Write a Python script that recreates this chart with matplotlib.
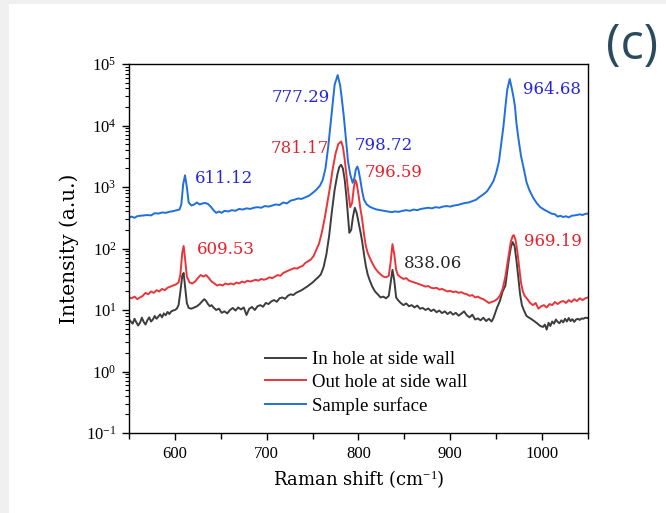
import matplotlib
matplotlib.use("Agg")
import matplotlib.pyplot as plt
from matplotlib.patches import Rectangle
from matplotlib.ticker import MultipleLocator, LogLocator, NullFormatter

plt.rcParams.update({
    "font.family":        ["Liberation Serif", "DejaVu Serif"],
    "mathtext.fontset":   "custom",
    "mathtext.rm":        "Liberation Serif",
    "mathtext.it":        "Liberation Serif:italic",
    "axes.linewidth":     1.0,
    "axes.unicode_minus": False,
})

# ── Data ──────────────────────────────────────────────────────────

# Sample surface (blue)
surf_x = [550, 553, 556, 559, 562, 566, 570, 574, 578, 582, 586, 590, 594, 598,
          602, 605, 607, 609, 611, 613, 615, 618, 621, 624, 627, 630, 633, 636,
          639, 642, 645, 648, 651, 654, 658, 662, 666, 670, 674, 678, 682, 686,
          690, 694, 698, 702, 706, 710, 714, 718, 722, 726, 730, 734, 738, 742,
          746, 750, 754, 758, 761, 764, 767, 770.6, 774, 777.3, 780, 781.6, 784,
          785.7, 788.6, 791, 793.6, 795.5, 797, 798.7, 800, 802, 804, 806, 809,
          812, 816, 820, 824, 828, 832, 836, 840, 844, 848, 852, 856, 860, 864,
          868, 872, 876, 880, 884, 888, 892, 896, 900, 904, 908, 912, 916, 920,
          924, 928, 932, 935, 940, 944, 947, 950, 953, 956, 958, 960, 962, 964.7,
          967, 969, 970.5, 972, 974, 977, 980, 983, 986, 990, 994, 998, 1002,
          1006, 1010, 1014, 1017, 1020, 1023, 1026, 1029, 1032, 1035, 1038,
          1041, 1044, 1047, 1050]
surf_y = [320, 330, 315, 335, 340, 345, 350, 345, 375, 370, 385, 380, 395, 405,
          420, 430, 520, 1100, 1550, 1000, 560, 500, 520, 560, 520, 540, 550, 530,
          480, 420, 380, 400, 380, 410, 400, 420, 410, 440, 430, 450, 440, 460,
          470, 460, 490, 480, 500, 520, 510, 560, 540, 600, 620, 650, 640, 680,
          720, 800, 900, 1050, 1300, 2000, 4500, 15000, 46000, 66000, 45000, 29000, 14000,
          7600, 2600, 1600, 1170, 1400, 1900, 2150, 1900, 1300, 850, 620, 520,
          480, 450, 430, 420, 410, 400, 390, 400, 395, 410, 420, 410, 430, 420,
          440, 450, 460, 450, 470, 460, 480, 490, 480, 500, 510, 530, 550, 560,
          590, 620, 690, 740, 850, 1050, 1250, 1700, 2600, 5800, 10000, 20000, 38000, 57000,
          40000, 28000, 20000, 11000, 6500, 3200, 2000, 1200, 900, 680, 550, 470, 430,
          400, 370, 360, 330, 340, 325, 335, 320, 340, 345, 350,
          360, 350, 365, 370]

# Out hole at side wall (red)
out_x = [550, 553, 556, 559, 562, 565, 568, 571, 574, 577, 580, 583, 586, 589,
         592, 595, 598, 601, 604, 606, 608, 609.5, 611, 613, 616, 619, 622, 625,
         628, 631, 634, 637, 640, 643, 646, 649, 652, 655, 658, 661, 664, 667,
         670, 673, 676, 679, 682, 685, 688, 691, 694, 697, 700, 703, 706, 709,
         712, 715, 718, 721, 724, 727, 730, 733, 736, 739, 742, 745, 748, 751,
         754, 757, 760, 763, 766, 769, 772, 775, 778, 781.2, 783, 785, 787, 789,
         791, 793, 795, 796.6, 798, 800, 802, 804, 806, 808, 810, 812, 815, 818,
         821, 824, 827, 830, 833, 835, 837, 839, 841, 843, 846, 849, 852, 855,
         858, 861, 864, 867, 870, 873, 876, 879, 882, 885, 888, 891, 894, 897,
         900, 903, 906, 909, 912, 915, 918, 921, 924, 927, 930, 933, 936, 939,
         942, 945, 948, 951, 954, 957, 960, 962, 964, 966, 968, 969.2, 971, 973,
         975, 977, 979, 981, 984, 987, 990, 993, 996, 999, 1002, 1005, 1008,
         1011, 1014, 1017, 1020, 1023, 1026, 1029, 1032, 1035, 1038, 1041,
         1044, 1047, 1050]
out_y = [16, 15.5, 16.5, 15, 16, 17, 19, 18, 20, 19, 21, 20, 22, 21,
         23, 24, 25, 26, 28, 38, 85, 110, 70, 35, 28, 27, 29, 33,
         37, 35, 37, 33, 29, 27, 25, 26, 25, 27, 26, 27, 26, 28,
         27, 29, 28, 30, 29, 30, 31, 30, 32, 31, 32, 34, 33, 35,
         37, 36, 40, 42, 44, 46, 48, 47, 50, 52, 58, 62, 66, 75,
         95, 120, 180, 300, 550, 1000, 2000, 3500, 5000, 5500, 4500, 2800, 1500, 800,
         470, 550, 1000, 1300, 1150, 750, 450, 300, 170, 110, 85, 72, 58, 48,
         42, 38, 35, 34, 36, 60, 118, 80, 45, 37, 34, 32, 33, 30,
         29, 28, 27, 26, 25, 24, 24.5, 23, 22.5, 23, 21.5, 22, 21, 20,
         20.5, 19.5, 20, 19, 19.5, 18.5, 18, 17, 17.5, 16, 16.5, 15.5, 15, 14,
         13, 13.5, 14, 15, 17, 22, 35, 55, 85, 130, 160, 165, 140, 90,
         50, 28, 20, 17, 15, 13, 12, 13, 10.5, 11.5, 12, 11, 12.5,
         12, 13.5, 12.5, 13.5, 14, 13, 14.5, 13.5, 15, 14, 15.5,
         14.5, 15.5, 16]

# In hole at side wall (dark grey)
in_x = [550, 552, 554, 556, 558, 560, 562, 564, 566, 568, 570, 572, 574, 576,
        578, 580, 582, 584, 586, 588, 590, 592, 594, 596, 598, 600, 602, 604,
        606, 608, 609.5, 611, 613, 615, 618, 621, 624, 627, 630, 632, 634, 636,
        638, 640, 642, 645, 648, 651, 654, 657, 660, 663, 666, 669, 672, 675,
        678, 681, 684, 687, 690, 693, 696, 699, 702, 705, 708, 711, 714, 717,
        720, 723, 726, 729, 732, 735, 738, 741, 744, 747, 750, 753, 756, 759,
        762, 765, 768, 771, 774, 777, 779, 781, 783, 785, 787, 789, 790, 792,
        794, 796, 798, 800, 802, 804, 806, 808, 810, 812, 815, 818, 821, 824,
        827, 830, 833, 835, 837, 839, 841, 843, 846, 849, 852, 855, 858, 861,
        864, 867, 870, 873, 876, 879, 882, 885, 888, 891, 894, 897, 900, 903,
        906, 909, 912, 915, 918, 921, 924, 927, 930, 933, 936, 939, 942, 945,
        947, 949, 951, 954, 957, 960, 962, 964, 966, 968, 970, 972, 974, 976,
        978, 980, 983, 986, 989, 992, 995, 998, 1001, 1003, 1005, 1007, 1009,
        1011, 1013, 1015, 1017, 1019, 1021, 1023, 1025, 1027, 1029, 1031,
        1033, 1035, 1037, 1039, 1041, 1043, 1045, 1047, 1050]
in_y = [7, 6.5, 6, 7.2, 6.3, 5.6, 6.2, 7.5, 6.4, 5.8, 6.8, 7.6, 6.5, 7,
        8, 7.2, 7.8, 8.5, 7.6, 8.8, 8.2, 9.3, 8.6, 9.5, 9.8, 10, 10.5, 12,
        20, 36, 40, 25, 13, 10.8, 10.5, 11, 11.5, 12.5, 14, 15, 14, 12.5,
        11.5, 12, 11, 10, 10.5, 9, 9.5, 8.8, 10, 10.8, 9.8, 11, 10.2, 11,
        8.3, 10.5, 11.2, 10, 11.5, 12, 11.3, 13, 12.5, 13.8, 14.5, 13.6, 15.5, 16,
        15.2, 17, 18, 17.5, 19, 20, 21, 22.5, 24, 26, 28, 31, 34, 38,
        50, 80, 160, 400, 900, 1600, 2100, 2300, 2000, 1300, 650, 270, 180, 200,
        330, 460, 380, 270, 190, 130, 80, 52, 38, 31, 24, 20, 18, 16,
        16.5, 15.5, 17, 28, 45, 30, 16, 14.5, 13, 12, 12.8, 11.5, 12, 11,
        11.8, 10.5, 10.8, 10, 10.6, 9.6, 10.2, 9.2, 9.8, 8.9, 9.5, 8.6, 9.3, 8.4,
        9, 8.1, 8.7, 9.5, 8.2, 7.6, 8.4, 7, 7.3, 6.8, 7.5, 6.6, 7.2, 6.5,
        7.4, 9, 11, 14, 20, 25, 42, 70, 105, 127, 110, 65, 35, 18,
        12, 10, 8, 7.5, 7, 6.5, 6, 5.5, 5.3, 5.8, 4.8, 6.2, 5.5,
        6.5, 6, 7, 6.4, 6.1, 6.8, 6.3, 7.2, 6.5, 7.4, 6.6,
        7.1, 6.4, 7, 7.2, 6.9, 7.3, 7.2, 7.5, 7.4]

# Peak annotations
peak_labels = ["611.12", "777.29", "798.72", "964.68",
               "609.53", "781.17", "796.59", "969.19", "838.06"]
peak_x = [622, 769, 796, 979, 624, 768, 807, 980, 849.5]
peak_y = [1350, 29000, 4700, 38000, 98, 4200, 1700, 132, 57]
peak_series = ["surf", "surf", "surf", "surf",
               "out", "out", "out", "out", "in"]
peak_ha = ["left", "right", "left", "left",
           "left", "right", "left", "left", "left"]

LINE_COLORS = {"in": "#3d3d3d", "out": "#e8353a", "surf": "#1f6fdc"}
TEXT_COLORS = {"in": "#262626", "out": "#e8202a", "surf": "#2525e0"}

# ── Figure ────────────────────────────────────────────────────────

fig = plt.figure(figsize=(6.66, 5.13), dpi=100, facecolor="#f0f0f0")
fig.patches.append(Rectangle((9 / 666, 0), 1, 1 - 4 / 513,
                             transform=fig.transFigure, facecolor="white",
                             edgecolor="none", zorder=-10))

ax = fig.add_axes([129 / 666, 1 - 433 / 513, 459 / 666, 369 / 513])
ax.set_facecolor("none")
ax.plot(in_x, in_y, color=LINE_COLORS["in"], lw=1.4, label="In hole at side wall")
ax.plot(out_x, out_y, color=LINE_COLORS["out"], lw=1.4, label="Out hole at side wall")
ax.plot(surf_x, surf_y, color=LINE_COLORS["surf"], lw=1.4, label="Sample surface")

ax.set_yscale("log")
ax.set_xlim(550, 1050)
ax.set_ylim(1e-1, 1e5)
ax.xaxis.set_major_locator(MultipleLocator(100))
ax.xaxis.set_minor_locator(MultipleLocator(50))
ax.yaxis.set_major_locator(LogLocator(base=10, numticks=10))
ax.yaxis.set_minor_locator(LogLocator(base=10, subs=range(2, 10), numticks=10))
ax.yaxis.set_minor_formatter(NullFormatter())
ax.tick_params(which="major", direction="out", length=5, width=1.0,
               labelsize=12, top=False, right=False, pad=4)
ax.tick_params(which="minor", direction="out", length=3, width=0.8,
               top=False, right=False)
ax.tick_params(axis="x", which="minor", length=4.5, width=1.0)

for txt, x, y, key, ha in zip(peak_labels, peak_x, peak_y, peak_series, peak_ha):
    ax.text(x, y, txt, color=TEXT_COLORS[key], fontsize=12, ha=ha, va="center",
            family="DejaVu Serif")

ax.set_xlabel("Raman shift (cm$^{-1}$)", fontsize=13, family="DejaVu Serif",
              labelpad=5)
ax.set_ylabel("Intensity (a.u.)", fontsize=14.5, family="DejaVu Serif",
              labelpad=5)

ax.legend(loc="center", bbox_to_anchor=(0.516, 0.136), frameon=False,
          fontsize=13.5, handlelength=2.2, handletextpad=0.3, labelspacing=0.3,
          borderpad=0)

fig.text(632 / 666, 1 - 46 / 513, "(c)", fontsize=35, color="#2b4a5e",
         family="Open Sans", ha="center", va="center")

fig.savefig("out.png", dpi=100, facecolor=fig.get_facecolor())
